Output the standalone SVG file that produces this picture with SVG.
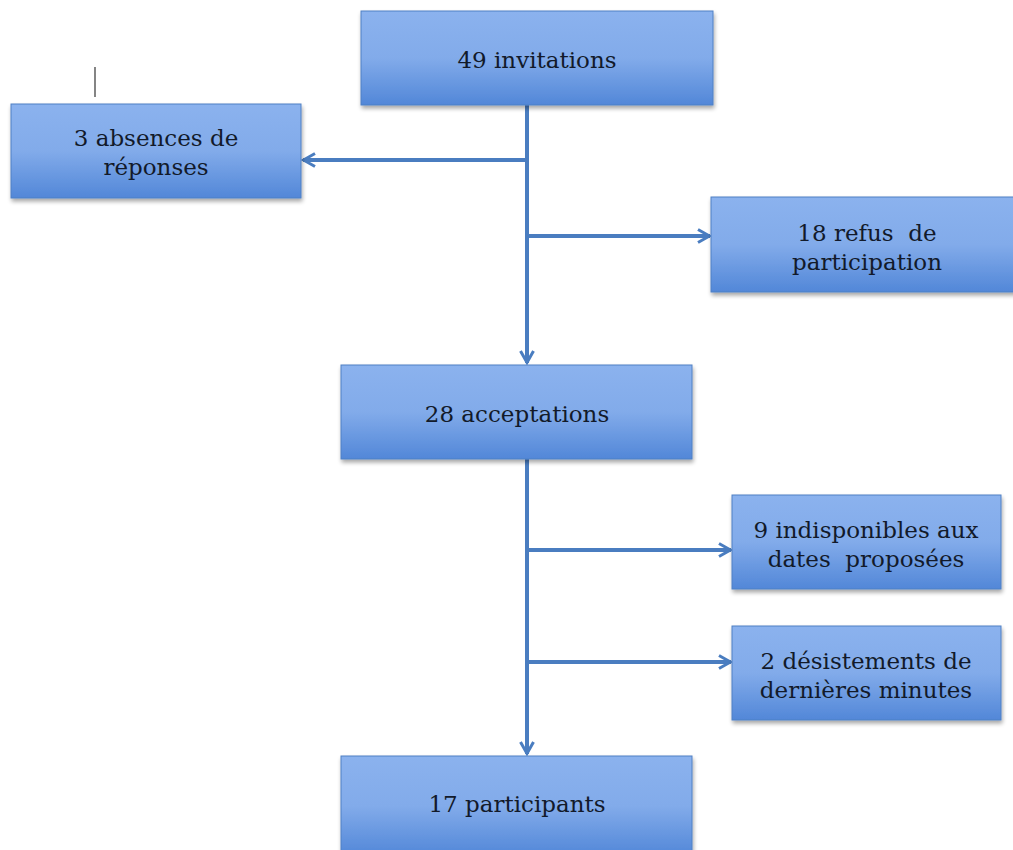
<svg xmlns="http://www.w3.org/2000/svg" width="1013" height="850" viewBox="0 0 1013 850">
<defs>
<linearGradient id="g" x1="0" y1="0" x2="0" y2="1">
<stop offset="0" stop-color="#8bb2ee"/>
<stop offset="0.5" stop-color="#82abea"/>
<stop offset="1" stop-color="#5287d8"/>
</linearGradient>
<filter id="sh" x="-5%" y="-5%" width="112%" height="120%">
<feGaussianBlur in="SourceAlpha" stdDeviation="2"/>
<feOffset dx="1" dy="3" result="b"/>
<feComponentTransfer><feFuncA type="linear" slope="0.35"/></feComponentTransfer>
<feMerge><feMergeNode/><feMergeNode in="SourceGraphic"/></feMerge>
</filter>
<marker id="ah" viewBox="0 0 16 16" refX="14" refY="8" markerWidth="16" markerHeight="16" markerUnits="userSpaceOnUse" orient="auto">
<path d="M2,1.5 L13.5,8 L2,14.5" fill="none" stroke="#4a7dc0" stroke-width="3"/>
</marker>
</defs>
<style>
.box{fill:url(#g);stroke:#4f80c4;stroke-width:1;filter:url(#sh)}
.t{font-family:"DejaVu Serif","Liberation Serif",serif;font-size:23px;fill:#121a2a;text-anchor:middle;white-space:pre}
.c{fill:none;stroke:#4a7dc0;stroke-width:4}
</style>
<rect width="1013" height="850" fill="#ffffff"/>
<line x1="95" y1="67" x2="95" y2="97" stroke="#333" stroke-width="1.2"/>
<g id="connectors">
<line class="c" x1="527" y1="105" x2="527" y2="363" marker-end="url(#ah)"/>
<line class="c" x1="527" y1="160" x2="303" y2="160" marker-end="url(#ah)"/>
<line class="c" x1="527" y1="236" x2="710" y2="236" marker-end="url(#ah)"/>
<line class="c" x1="527" y1="459" x2="527" y2="754" marker-end="url(#ah)"/>
<line class="c" x1="527" y1="550" x2="731" y2="550" marker-end="url(#ah)"/>
<line class="c" x1="527" y1="662" x2="731" y2="662" marker-end="url(#ah)"/>
</g>
<g id="n-invitations">
<rect class="box" x="361" y="11" width="352" height="94"/>
<text class="t" x="537" y="68">49 invitations</text>
</g>
<g id="n-absences">
<rect class="box" x="11" y="104" width="290" height="94"/>
<text class="t" x="156" y="146">3 absences de</text>
<text class="t" x="156" y="175">réponses</text>
</g>
<g id="n-refus">
<rect class="box" x="711" y="197" width="312" height="95"/>
<text class="t" x="867" y="241" xml:space="preserve">18 refus  de</text>
<text class="t" x="867" y="270">participation</text>
</g>
<g id="n-acceptations">
<rect class="box" x="341" y="365" width="351" height="94"/>
<text class="t" x="517" y="422">28 acceptations</text>
</g>
<g id="n-indisponibles">
<rect class="box" x="732" y="495" width="269" height="94"/>
<text class="t" x="866" y="538">9 indisponibles aux</text>
<text class="t" x="866" y="567" xml:space="preserve">dates  proposées</text>
</g>
<g id="n-desistements">
<rect class="box" x="732" y="626" width="269" height="94"/>
<text class="t" x="866" y="669">2 désistements de</text>
<text class="t" x="866" y="698">dernières minutes</text>
</g>
<g id="n-participants">
<rect class="box" x="341" y="756" width="351" height="100"/>
<text class="t" x="517" y="812">17 participants</text>
</g>
</svg>
